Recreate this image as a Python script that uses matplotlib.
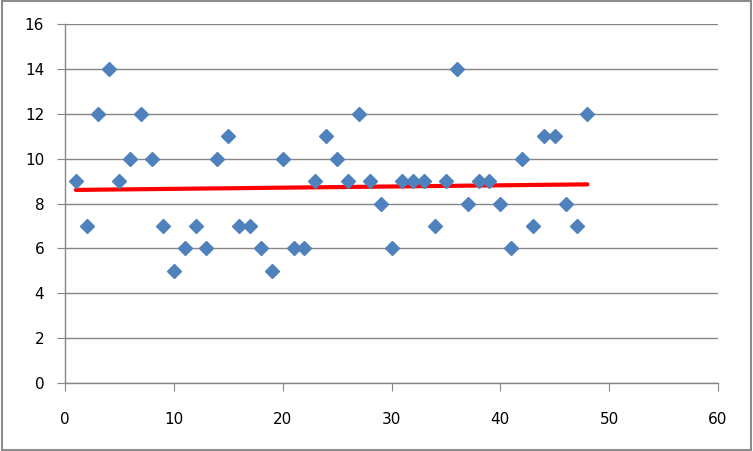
import matplotlib
matplotlib.use("Agg")
import matplotlib.pyplot as plt
from matplotlib.patches import Rectangle
import numpy as np

# значения
x_vals = list(range(1, 49))
y_vals = [9, 7, 12, 14, 9, 10, 12, 10, 7, 5,
          6, 7, 6, 10, 11, 7, 7, 6, 5, 10,
          6, 6, 9, 11, 10, 9, 12, 9, 8, 6,
          9, 9, 9, 7, 9, 14, 8, 9, 9, 8,
          6, 10, 7, 11, 11, 8, 7, 12]
x_ticks = [0, 10, 20, 30, 40, 50, 60]
y_ticks = [0, 2, 4, 6, 8, 10, 12, 14, 16]

grey = "#868686"

fig = plt.figure(figsize=(7.53, 4.51), dpi=100)
ax = fig.add_axes([65 / 753, 1 - 383 / 451, (718 - 65) / 753, (383 - 24) / 451])

# линейный тренд
x = np.array(x_vals)
y = np.array(y_vals)
k, b = np.polyfit(x, y, 1)
ax.plot([x[0], x[-1]], [k * x[0] + b, k * x[-1] + b], color="#FF0000", lw=3,
        solid_capstyle="round", zorder=2)

ax.plot(x, y, linestyle="none", marker="D", ms=7.3, color="#4F81BD", mec="#4F81BD", zorder=3)

ax.set_xlim(0, 60)
ax.set_ylim(0, 16)
ax.set_xticks(x_ticks)
ax.set_yticks(y_ticks)
ax.yaxis.grid(True, color=grey, lw=1)
ax.set_axisbelow(True)

for s in ["top", "right"]:
    ax.spines[s].set_visible(False)
for s in ["left", "bottom"]:
    ax.spines[s].set_color(grey)
    ax.spines[s].set_linewidth(1)

ax.tick_params(axis="x", direction="out", length=6, color=grey, pad=15, labelsize=11)
ax.tick_params(axis="y", direction="out", length=6, color=grey, pad=9, labelsize=11)

# рамка вокруг рисунка
fig.patches.append(Rectangle((0.002, 0.002), 0.996, 0.996, transform=fig.transFigure,
                             fill=False, edgecolor="#8c8c8c", lw=1.5))

fig.savefig("out.png", dpi=100)
